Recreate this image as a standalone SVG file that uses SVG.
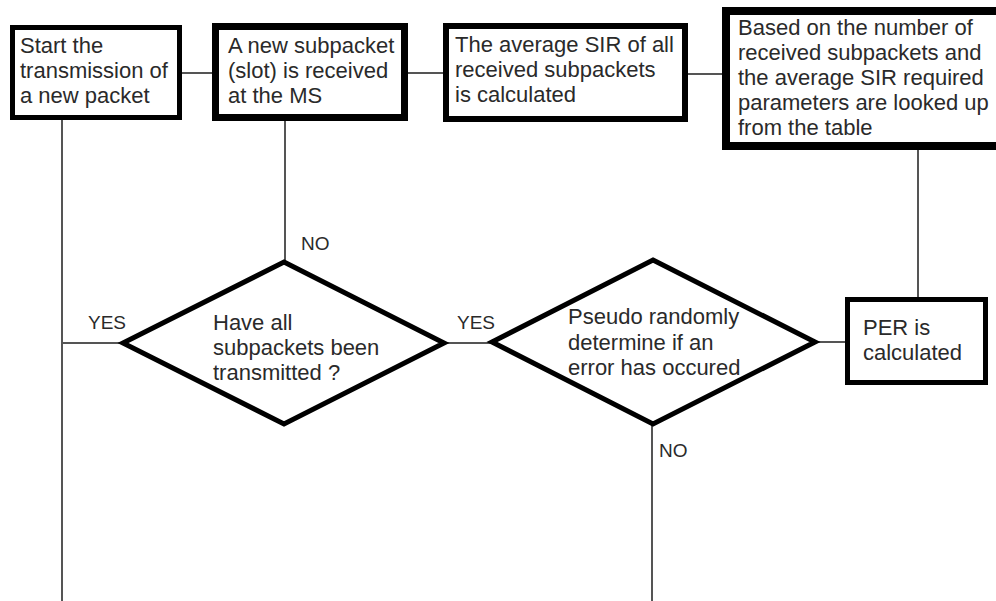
<svg xmlns="http://www.w3.org/2000/svg" width="996" height="601" viewBox="0 0 996 601">
<style>
.box{fill:#fff;stroke:#000;}
.dia{fill:#fff;stroke:#000;stroke-width:5;stroke-linejoin:miter;}
.t{font-family:"Liberation Sans",Arial,sans-serif;font-size:22px;fill:#2a2a2a;}
.lbl{font-family:"Liberation Sans",Arial,sans-serif;font-size:19px;fill:#2a2a2a;}
.c{stroke:#555;stroke-width:2;fill:none;}
</style>
<rect width="996" height="601" fill="#fff"/>
<g id="connectors">
<line class="c" x1="180" y1="73" x2="214" y2="73"/>
<line class="c" x1="406" y1="73" x2="445" y2="73"/>
<line class="c" x1="686" y1="74" x2="724" y2="74"/>
<line class="c" x1="62" y1="119" x2="62" y2="601"/>
<line class="c" x1="285" y1="119" x2="285" y2="262"/>
<line class="c" x1="62" y1="343" x2="123" y2="343"/>
<line class="c" x1="444" y1="343" x2="492" y2="343"/>
<line class="c" x1="815" y1="342" x2="847" y2="342"/>
<line class="c" x1="918" y1="148" x2="918" y2="299"/>
<line class="c" x1="652" y1="424" x2="652" y2="601"/>
<text class="lbl" x="301" y="250">NO</text>
<text class="lbl" x="88" y="329">YES</text>
<text class="lbl" x="457" y="329">YES</text>
<text class="lbl" x="659" y="457">NO</text>
</g>
<g id="start">
<rect class="box" x="12.5" y="27.5" width="167" height="90" stroke-width="5"/>
<text class="t" x="20" y="53">Start the</text>
<text class="t" x="20" y="78">transmission of</text>
<text class="t" x="20" y="103">a new packet</text>
</g>
<g id="receive">
<rect class="box" x="215.5" y="26.5" width="189" height="91" stroke-width="7"/>
<text class="t" x="228" y="53">A new subpacket</text>
<text class="t" x="228" y="78">(slot) is received</text>
<text class="t" x="228" y="103">at the MS</text>
</g>
<g id="avgsir">
<rect class="box" x="446" y="26" width="239" height="93" stroke-width="6"/>
<text class="t" x="455" y="52">The average SIR of all</text>
<text class="t" x="455" y="77">received subpackets</text>
<text class="t" x="455" y="102">is calculated</text>
</g>
<g id="lookup">
<rect class="box" x="726" y="11" width="290" height="135" stroke-width="8"/>
<text class="t" x="738" y="35">Based on the number of</text>
<text class="t" x="738" y="60">received subpackets and</text>
<text class="t" x="738" y="85">the average SIR required</text>
<text class="t" x="738" y="110">parameters are looked up</text>
<text class="t" x="738" y="135">from the table</text>
</g>
<g id="alltx">
<polygon class="dia" points="284,262 444,343 284,424 123,343"/>
<text class="t" x="213" y="330">Have all</text>
<text class="t" x="213" y="355">subpackets been</text>
<text class="t" x="213" y="380">transmitted ?</text>
</g>
<g id="error">
<polygon class="dia" points="653,260 815,342 653,424 492,342"/>
<text class="t" x="568" y="324">Pseudo randomly</text>
<text class="t" x="568" y="350">determine if an</text>
<text class="t" x="568" y="375">error has occured</text>
</g>
<g id="per">
<rect class="box" x="847.5" y="299.5" width="138" height="83" stroke-width="5"/>
<text class="t" x="863" y="335">PER is</text>
<text class="t" x="863" y="360">calculated</text>
</g>
</svg>
